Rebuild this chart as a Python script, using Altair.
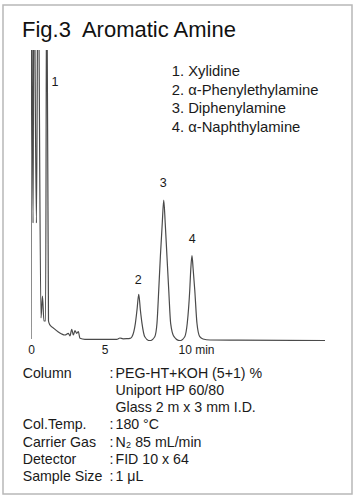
import altair as alt
import pandas as pd

# ---- data ----
times = [0.00, 0.03, 0.14, 0.20, 0.37, 0.48, 0.68, 0.78, 0.88, 0.99, 1.07, 1.19, 1.29, 1.52,
         1.86, 2.09, 2.31, 2.54, 2.65, 2.77, 2.88, 2.99, 3.11, 3.22, 3.33, 3.67, 4.69, 5.83,
         6.05, 6.26, 6.51, 6.74, 6.87, 7.10, 7.21, 7.33, 7.44, 7.55, 7.74, 8.08, 8.42, 8.57,
         8.69, 8.80, 8.93, 9.03, 9.13, 9.25, 9.37, 9.50, 9.73, 10.12, 10.46, 10.63, 10.80,
         10.87, 10.95, 11.03, 11.14, 11.29, 11.48, 11.70, 12.18, 14.08, 20.0]
signal = [2, 400, 118, 400, 118, 400, 23, 45, 20, 20, 400, 20, 16, 13,
          9, 7, 6, 7.7, 5, 11.7, 6, 10.3, 7.7, 9.3, 2.7, 1.7, 1.7, 1.7,
          3, 2.2, 2.3, 2.7, 4.3, 17.7, 31, 46.7, 31, 17.7, 4.3, 0.3, 4.3, 17.7,
          51, 84.3, 118, 141, 118, 84.3, 51, 17.7, 4.3, 0.3, 4.3, 17.7, 51,
          72, 85.3, 72, 51, 17.7, 4.3, 2, 1.0, 0.8, 0.5]

peak_ids = ["1", "2", "3", "4"]
peak_t = [1.63, 7.30, 9.00, 10.97]
peak_s = [259, 61, 158, 102]

compounds = ["1. Xylidine", "2. α-Phenylethylamine", "3. Diphenylamine", "4. α-Naphthylamine"]

cond_labels = ["Column", "", "", "Col.Temp.", "Carrier Gas", "Detector", "Sample Size"]
cond_values = ["PEG-HT+KOH (5+1) %", "Uniport HP 60/80", "Glass 2 m x 3 mm I.D.",
               "180 °C", "N₂ 85 mL/min", "FID 10 x 64", "1 μL"]

x_ticks = [0, 5, 10]
title_text = "Fig.3\u00a0 Aromatic Amine"

FONT = "Liberation Sans"
TXT = "#1a1a1a"

trace = pd.DataFrame({"t": times, "s": signal})
peaks_df = pd.DataFrame({"t": peak_t, "s": peak_s, "id": peak_ids})
one = pd.DataFrame({"a": [0]})

xscale = alt.Scale(domain=[0, 20], nice=False, zero=False)
yscale = alt.Scale(domain=[0, 291], nice=False, zero=False)

line = alt.Chart(trace).mark_line(
    color="#4a4a4a", strokeWidth=1.2, interpolate="monotone", clip=True
).encode(
    x=alt.X("t:Q", scale=xscale, axis=alt.Axis(
        values=x_ticks, title=None, domain=False, ticks=False, grid=False,
        labelFlush=False, labelOverlap=False, labelFont=FONT, labelFontSize=12,
        labelColor=TXT, labelPadding=3,
        labelExpr="datum.value == 10 ? '10 min' : datum.label",
        labelAlign={"condition": {"test": "datum.value == 10", "value": "left"}, "value": "center"},
    )),
    y=alt.Y("s:Q", scale=yscale, axis=None),
)

peaks = alt.Chart(peaks_df).mark_text(
    font=FONT, fontSize=12.5, color=TXT, baseline="middle", align="center"
).encode(x=alt.X("t:Q", scale=xscale), y=alt.Y("s:Q", scale=yscale), text="id:N")

layers = [line, peaks]

# frame around the figure
frame = alt.Chart(one).mark_rect(fill=None, stroke="#b8b8b8", strokeWidth=1.5).encode(
    x=alt.value(-28), x2=alt.value(321), y=alt.value(-45), y2=alt.value(444)
)
layers.insert(0, frame)


def txt(x, y, s, size=14.5, color=TXT):
    return alt.Chart(one).mark_text(
        font=FONT, fontSize=size, color=color, align="left", baseline="alphabetic"
    ).encode(x=alt.value(x), y=alt.value(y), text=alt.value(s))


# title
layers.append(txt(-9, -13, title_text, size=22, color="#111111"))

# compound list
for i, c in enumerate(compounds):
    layers.append(txt(140.7, 26 + i * 18.6, c, size=14.8))

# conditions
for i, (lab, val) in enumerate(zip(cond_labels, cond_values)):
    yy = 327.5 + i * 17.3
    if lab:
        layers.append(txt(-8.3, yy, lab, size=14.2))
        layers.append(txt(78.5, yy, ":", size=14.2))
    layers.append(txt(84.5, yy, val, size=14.2))

chart = alt.layer(*layers).properties(
    width=294, height=291,
    padding={"left": 31, "top": 50, "right": 33, "bottom": 157},
    autosize=alt.AutoSizeParams(type="none"),
    background="white",
).configure_view(stroke=None)

chart.save("out.html", embed_options={"renderer": "svg", "actions": False})
